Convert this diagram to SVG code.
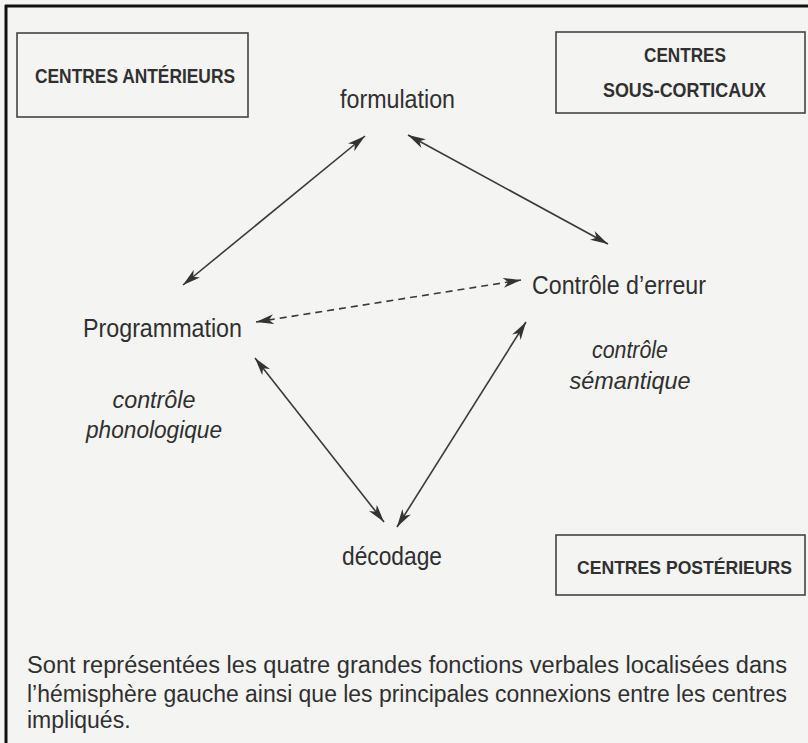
<svg xmlns="http://www.w3.org/2000/svg" width="808" height="743" viewBox="0 0 808 743">
<defs>
<marker id="ah" viewBox="0 0 18 10" refX="18" refY="5" markerWidth="18" markerHeight="10" markerUnits="userSpaceOnUse" orient="auto-start-reverse">
<path d="M0,0 L18,5 L0,10 L5,5 z" fill="#333"/>
</marker>
</defs>
<style>
.node{font-family:"Liberation Sans",Arial,sans-serif;font-size:25px;fill:#303030;text-anchor:middle}
.ital{font-family:"Liberation Sans",Arial,sans-serif;font-size:24px;font-style:italic;fill:#303030;text-anchor:middle}
.box{fill:none;stroke:#444;stroke-width:1.6}
.boxt{font-family:"Liberation Sans",Arial,sans-serif;font-size:20px;font-weight:bold;fill:#303030}
.cap{font-family:"Liberation Sans",Arial,sans-serif;font-size:23px;fill:#303030}
.conn{stroke:#3a3a3a;stroke-width:1.6;fill:none;marker-start:url(#ah);marker-end:url(#ah)}
.dash{stroke-dasharray:7,5}
</style>
<rect x="0" y="0" width="808" height="743" fill="#f4f4f2"/>
<g id="frame">
<line x1="5" y1="6" x2="808" y2="6" stroke="#111" stroke-width="3"/>
<line x1="6" y1="5" x2="6" y2="743" stroke="#111" stroke-width="3"/>
</g>
<g id="centres-anterieurs">
<rect class="box" x="17" y="33" width="231" height="84"/>
<text class="boxt" x="35" y="83" textLength="200" lengthAdjust="spacingAndGlyphs">CENTRES ANTÉRIEURS</text>
</g>
<g id="centres-sous-corticaux">
<rect class="box" x="556" y="32" width="249" height="81"/>
<text class="boxt" x="644" y="62" textLength="82" lengthAdjust="spacingAndGlyphs">CENTRES</text>
<text class="boxt" x="603" y="97" textLength="163" lengthAdjust="spacingAndGlyphs">SOUS-CORTICAUX</text>
</g>
<g id="centres-posterieurs">
<rect class="box" x="556" y="535" width="249" height="60"/>
<text class="boxt" x="577" y="574" style="font-size:17.5px" textLength="215" lengthAdjust="spacingAndGlyphs">CENTRES POSTÉRIEURS</text>
</g>
<g id="formulation">
<text class="node" x="397.5" y="108" textLength="115" lengthAdjust="spacingAndGlyphs">formulation</text>
</g>
<g id="programmation">
<text class="node" x="162.5" y="337" textLength="159" lengthAdjust="spacingAndGlyphs">Programmation</text>
</g>
<g id="controle-erreur">
<text class="node" x="619" y="294" textLength="174" lengthAdjust="spacingAndGlyphs">Contrôle d’erreur</text>
</g>
<g id="decodage">
<text class="node" x="392" y="565" textLength="100" lengthAdjust="spacingAndGlyphs">décodage</text>
</g>
<g id="label-semantique">
<text class="ital" x="630" y="358" textLength="76" lengthAdjust="spacingAndGlyphs">contrôle</text>
<text class="ital" x="630" y="389" textLength="121" lengthAdjust="spacingAndGlyphs">sémantique</text>
</g>
<g id="label-phonologique">
<text class="ital" x="154" y="408" textLength="83" lengthAdjust="spacingAndGlyphs">contrôle</text>
<text class="ital" x="154" y="438" textLength="136" lengthAdjust="spacingAndGlyphs">phonologique</text>
</g>
<g id="connectors">
<line class="conn" x1="183" y1="285" x2="365" y2="136"/>
<line class="conn" x1="408" y1="135" x2="608" y2="244"/>
<line class="conn dash" x1="256" y1="322" x2="521" y2="280"/>
<line class="conn" x1="255" y1="358" x2="384" y2="522"/>
<line class="conn" x1="526" y1="322" x2="397" y2="527"/>
</g>
<g id="caption">
<text class="cap" x="27" y="673" textLength="760" lengthAdjust="spacingAndGlyphs">Sont représentées les quatre grandes fonctions verbales localisées dans</text>
<text class="cap" x="27" y="702" textLength="760" lengthAdjust="spacingAndGlyphs">l’hémisphère gauche ainsi que les principales connexions entre les centres</text>
<text class="cap" x="27" y="728">impliqués.</text>
</g>
</svg>
